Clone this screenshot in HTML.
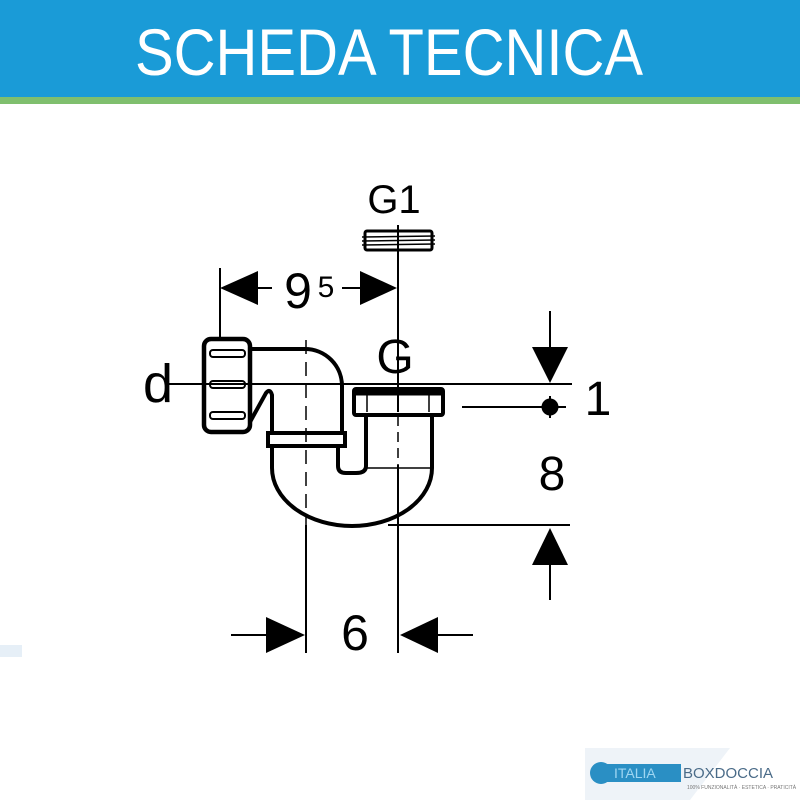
<!DOCTYPE html>
<html><head><meta charset="utf-8"><style>
html,body{margin:0;padding:0;background:#fff;width:800px;height:800px;overflow:hidden}
</style></head><body>
<svg width="800" height="800" viewBox="0 0 800 800" xmlns="http://www.w3.org/2000/svg" font-family="Liberation Sans, sans-serif">
<rect x="0" y="0" width="800" height="98" fill="#1a9bd7"/>
<rect x="0" y="97" width="800" height="7" fill="#7fbf6e"/>
<text x="389" y="75" font-size="66" fill="#fff" text-anchor="middle" textLength="508" lengthAdjust="spacingAndGlyphs">SCHEDA TECNICA</text>
<rect x="0" y="645" width="22" height="12" fill="#e6eff7"/>

<g stroke="#000" fill="none">
<line x1="220" y1="268" x2="220" y2="340" stroke-width="2"/>
<line x1="398" y1="225" x2="398" y2="400" stroke-width="2"/>
<line x1="258" y1="288" x2="272" y2="288" stroke-width="2"/>
<line x1="342" y1="288" x2="360" y2="288" stroke-width="2"/>
<rect x="365" y="231" width="67" height="19" rx="2" stroke-width="3"/>
<line x1="362" y1="237" x2="435" y2="236" stroke-width="1.5"/>
<line x1="362" y1="241" x2="435" y2="240" stroke-width="1.5"/>
<line x1="362" y1="245" x2="435" y2="244" stroke-width="1.5"/>
<line x1="168" y1="384" x2="572" y2="384" stroke-width="2"/>
<line x1="462" y1="407" x2="566" y2="407" stroke-width="2"/>
<line x1="550" y1="311" x2="550" y2="350" stroke-width="2"/>
<line x1="550" y1="396" x2="550" y2="418" stroke-width="2"/>
<line x1="388" y1="525" x2="570" y2="525" stroke-width="2"/>
<line x1="550" y1="560" x2="550" y2="600" stroke-width="2"/>
<line x1="306" y1="525" x2="306" y2="653" stroke-width="2"/>
<line x1="398" y1="465" x2="398" y2="653" stroke-width="2"/>
<line x1="231" y1="635" x2="270" y2="635" stroke-width="2"/>
<line x1="430" y1="635" x2="473" y2="635" stroke-width="2"/>
<line x1="306" y1="340" x2="306" y2="525" stroke-width="1.5" stroke-dasharray="14,8"/>
<line x1="398" y1="400" x2="398" y2="470" stroke-width="1.5" stroke-dasharray="10,6"/>

<rect x="204" y="339" width="46" height="93" rx="7" stroke-width="4.5"/>
<rect x="210" y="350" width="35" height="7" rx="3" stroke-width="2"/>
<rect x="210" y="381" width="35" height="7" rx="3" stroke-width="2"/>
<rect x="210" y="412" width="35" height="7" rx="3" stroke-width="2"/>
<path d="M250,349 L305,349 A37,37 0 0 1 342,386 L342,433" stroke-width="4"/>
<path d="M250,422 L266,393 Q270,388 272,395 L272,433" stroke-width="4"/>
<rect x="268" y="433" width="77" height="13" stroke-width="4"/>
<path d="M272,446 L272,468 A80,58 0 0 0 432,468 L432,416" stroke-width="4"/>
<path d="M338,446 L338,466 Q338,473 346,473 L356,473 Q366,473 366,466 L366,416" stroke-width="4"/>
<line x1="366" y1="468" x2="432" y2="468" stroke-width="1.5"/>
<rect x="354" y="389" width="89" height="26" rx="2" stroke-width="4"/>
<line x1="356" y1="393" x2="441" y2="393" stroke-width="5"/>
<line x1="367" y1="395" x2="367" y2="412" stroke-width="1.5"/>
<line x1="398" y1="395" x2="398" y2="412" stroke-width="2"/>
<line x1="429" y1="395" x2="429" y2="412" stroke-width="1.5"/>
</g>

<g fill="#000">
<polygon points="220,288 258,271 258,305"/>
<polygon points="397,288 360,271 360,305"/>
<polygon points="550,383 532,347 568,347"/>
<polygon points="550,528 532,565 568,565"/>
<circle cx="550" cy="407" r="8.5"/>
<polygon points="305,635 266,617 266,653"/>
<polygon points="400,635 438,617 438,653"/>
</g>

<g fill="#000" text-anchor="middle">
<text x="394" y="213" font-size="40">G1</text>
<text x="298" y="308" font-size="50">9</text>
<text x="326" y="297" font-size="30">5</text>
<text x="395" y="373" font-size="48">G</text>
<text x="158" y="402" font-size="54">d</text>
<text x="598" y="415" font-size="48">1</text>
<text x="552" y="490" font-size="48">8</text>
<text x="355" y="650" font-size="50">6</text>
</g>

<polygon points="585,748 730,748 690,800 585,800" fill="#eef3f8"/>
<circle cx="601" cy="773" r="11" fill="#2a8fc4"/>
<rect x="601" y="764" width="80" height="18" fill="#2a8fc4"/>
<text x="614" y="778" font-size="14" fill="#9fd6f2">ITALIA</text>
<text x="683" y="778" font-size="15" fill="#4a6b88">BOXDOCCIA</text>
<text x="687" y="789" font-size="5" fill="#777">100% FUNZIONALITÀ · ESTETICA · PRATICITÀ</text>
</svg>
</body></html>
